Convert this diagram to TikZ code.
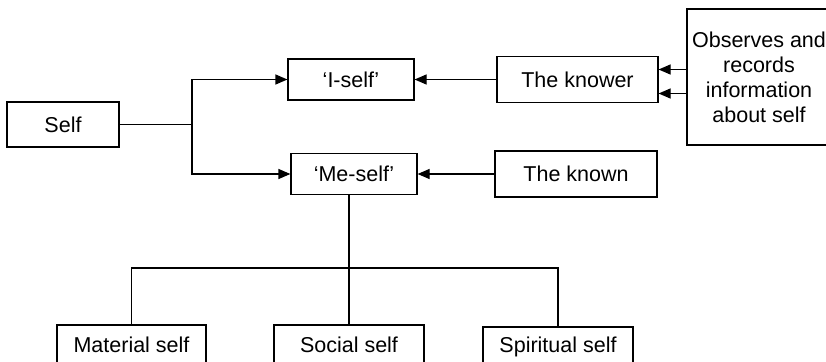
\documentclass[tikz,border=0pt]{standalone}
\usepackage{fontspec}
\setmainfont{Liberation Sans}
\usetikzlibrary{arrows.meta}
\begin{document}
\begin{tikzpicture}[x=1pt,y=1pt,
  box/.style={draw,line width=1.2pt,inner sep=0pt,align=center,font=\fontsize{21.5}{25}\selectfont},
  link/.style={line width=1.2pt},
  arr/.style={line width=1.2pt,-{Triangle[length=12pt,width=10pt]}}]
\useasboundingbox (0,0) rectangle (826,-361);
\node[box,minimum width=112,minimum height=45] (self) at (63,-124.5) {Self};
\node[box,minimum width=126,minimum height=41] (iself) at (351,-79.5) {‘I-self’};
\node[box,minimum width=126,minimum height=41] (meself) at (354,-174) {‘Me-self’};
\node[box,minimum width=161,minimum height=46] (knower) at (577.5,-79.5) {The knower};
\node[box,minimum width=162,minimum height=46] (known) at (576,-174) {The known};
\node[box,minimum width=144,minimum height=136] (obs) at (759,-77) {Observes and\\records\\information\\about self};
\node[box,minimum width=149,minimum height=40] (mat) at (131.5,-345) {Material self};
\node[box,minimum width=150,minimum height=40] (soc) at (349,-345) {Social self};
\node[box,minimum width=150,minimum height=40] (spi) at (558,-347) {Spiritual self};
\coordinate (j) at (192,-124.5);
\coordinate (bus) at (349,-268);
\draw[link] (self.east) -- (j);
\draw[arr] (j) |- (iself.west);
\draw[arr] (j) |- (meself.west);
\draw[arr] (knower.west) -- (iself.east);
\draw[arr] (known.west) -- (meself.east);
\draw[arr] ([yshift=10pt]obs.west |- knower.center) -- ([yshift=10pt]knower.east);
\draw[arr] ([yshift=-14pt]obs.west |- knower.center) -- ([yshift=-14pt]knower.east);
\draw[link] (meself.south -| soc.north) -- (soc.north);
\draw[link] (mat.north) -- (mat.north |- bus) -- (spi.north |- bus) -- (spi.north);
\end{tikzpicture}
\end{document}
